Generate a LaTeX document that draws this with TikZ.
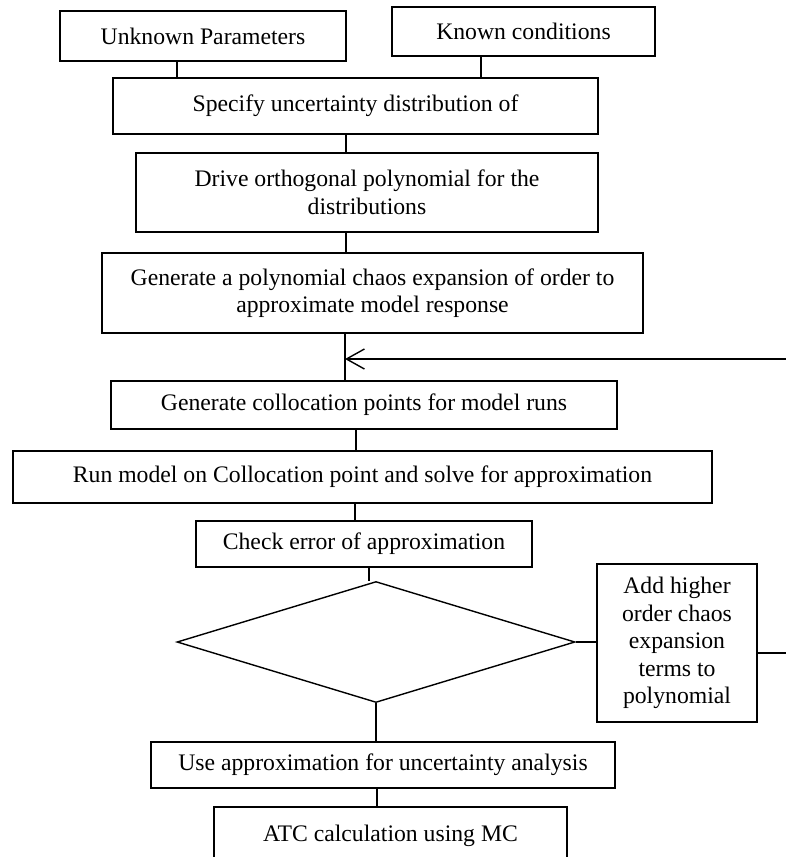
\documentclass[tikz,border=0pt]{standalone}
\usepackage{fontspec}
\setmainfont{Liberation Serif}
\usetikzlibrary{shapes.geometric,arrows.meta}

\begin{document}
\begin{tikzpicture}[x=1pt, y=-1pt,
            line width=1.4pt,
            every node/.style = {font=\fontsize{23.7}{27.5}\selectfont, inner sep=0pt},
            box/.style = {draw, rectangle, align=center},
            decision/.style = {draw, diamond, aspect=3.3, minimum width=398pt, minimum height=121pt},
            back/.style = {-{Straight Barb[length=18pt, width=20pt]}}
            ]
            \useasboundingbox (0,0) rectangle (786,857);
            \node[box, minimum width=286pt, minimum height=50pt] (unknown) at (203,36) {Unknown Parameters};
            \node[box, minimum width=263pt, minimum height=49pt] (known) at (523.5,31.5) {Known conditions};
            \node[box, minimum width=485pt, minimum height=56pt] (specify) at (355.5,106) {Specify uncertainty distribution of};
            \node[box, minimum width=462pt, minimum height=79pt] (drive) at (367,192.5)
                {Drive orthogonal polynomial for the\\distributions};
            \node[box, minimum width=541pt, minimum height=80pt] (pce) at (372.5,293)
                {Generate a polynomial chaos expansion of order to\\approximate model response};
            \node[box, minimum width=506pt, minimum height=48pt] (coll) at (364,405) {Generate collocation points for model runs};
            \node[box, minimum width=699pt, minimum height=52pt] (run) at (362.5,477)
                {Run model on Collocation point and solve for approximation};
            \node[box, minimum width=336pt, minimum height=46pt] (check) at (364,544) {Check error of approximation};
            \node[decision] (dec) at (376,642) {};
            \node[box, minimum width=160pt, minimum height=158pt] (add) at (677,643)
                {Add higher\\order chaos\\expansion\\terms to\\polynomial};
            \node[box, minimum width=464pt, minimum height=46pt] (use) at (383,765)
                {Use approximation for uncertainty analysis};
            \node[box, minimum width=353pt, minimum height=58pt] (atc) at (390.5,836) {ATC calculation using MC};
            \coordinate (loop) at (345,359);

            \draw ([xshift=-26pt]unknown.south) -- ([xshift=-26pt]unknown.south |- specify.north);
            \draw ([xshift=-42.5pt]known.south) -- ([xshift=-42.5pt]known.south |- specify.north);
            \draw ([xshift=-9.5pt]specify.south) -- ([xshift=-9.5pt]specify.south |- drive.north);
            \draw ([xshift=-21pt]drive.south) -- ([xshift=-21pt]drive.south |- pce.north);
            \draw ([xshift=-27.5pt]pce.south) -- ([xshift=-27.5pt]pce.south |- coll.north);
            \draw ([xshift=-8pt]coll.south) -- ([xshift=-8pt]coll.south |- run.north);
            \draw ([xshift=-7.5pt]run.south) -- ([xshift=-7.5pt]run.south |- check.north);
            \draw ([xshift=5pt]check.south) -- ([xshift=5pt]check.south |- dec.north);
            \draw (dec.south) -- (dec.south |- use.north);
            \draw ([xshift=-6pt]use.south) -- ([xshift=-6pt]use.south |- atc.north);
            \draw (dec.east) -- (dec.east -| add.west);
            \draw[back] ([yshift=-10pt]add.east) -- ++(40,0) |- (loop);
\end{tikzpicture}
\end{document}
